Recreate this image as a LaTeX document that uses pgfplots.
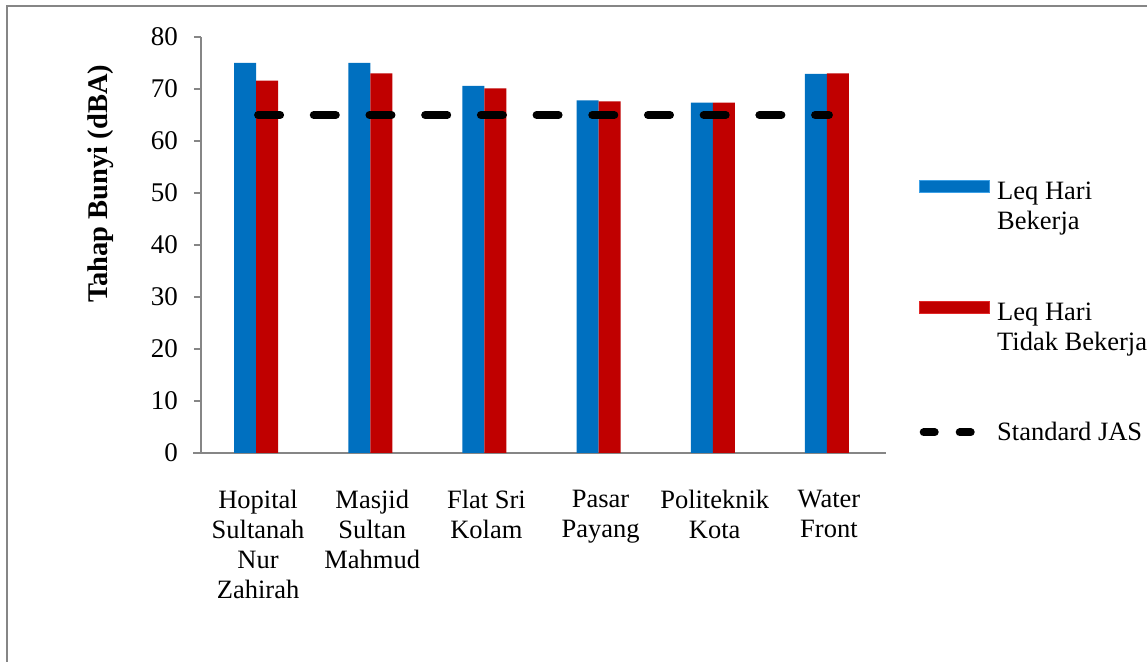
\documentclass[border=0pt]{standalone}
\usepackage{fontspec}
\setmainfont{Liberation Serif}
\usepackage{pgfplots}
\pgfplotsset{compat=1.18}
\definecolor{axgray}{RGB}{134,134,134}
\definecolor{bluemain}{RGB}{0,112,192}
\definecolor{bluelight}{RGB}{60,160,230}
\definecolor{redmain}{RGB}{192,0,0}
\definecolor{redlight}{RGB}{225,40,40}
\newcommand{\txt}{\fontsize{26.5bp}{30bp}\selectfont}
\begin{document}
\begin{tikzpicture}
\useasboundingbox (0bp,0bp) rectangle (1147bp,662bp);
\fill[white] (0bp,0bp) rectangle (1147bp,662bp);
\draw[axgray, line width=1.5bp] (7bp,-20bp) -- (7bp,656bp) -- (1170bp,656bp);
\begin{axis}[
  at={(201bp,209bp)}, anchor=south west,
  scale only axis, width=685bp, height=416bp,
  xmin=-0.5, xmax=5.5, ymin=0, ymax=80,
  ytick={0,10,...,80},
  xtick={0,...,5},
  xticklabels={Hopital\\Sultanah\\Nur\\Zahirah, Masjid\\Sultan\\Mahmud, Flat Sri\\Kolam, Pasar\\Payang, Politeknik\\Kota, Water\\Front},
  xticklabel style={align=center, anchor=north, inner sep=0pt, yshift=-30bp, font=\txt},
  axis x line*=bottom, axis y line*=left,
  axis line style={axgray, line width=1.3bp},
  x axis line style={shorten <=-8bp},
  xtick style={draw=none},
  ytick style={axgray, line width=1.3bp},
  tick align=outside, major tick length=7bp,
  yticklabel style={font=\fontsize{27bp}{30bp}\selectfont, inner sep=0pt, xshift=-16bp},
  /pgf/number format/assume math mode=true,
  ylabel={Tahap Bunyi (dBA)},
  ylabel style={at={(rel axis cs:-0.146,0.647)}, anchor=center, font=\fontsize{28.5bp}{33bp}\selectfont\bfseries},
  ybar=0pt, bar width=22bp,
  legend style={draw=none, fill=none, at={(rel axis cs:1.0482,0.656)}, anchor=north west,
    inner sep=0pt, row sep=70bp, column sep=7bp, font=\txt,
    nodes={inner sep=0pt, align=left}},
  legend cell align=left,
]
\addplot[ybar, fill=bluemain, draw=none, bar shift=-13bp,
  legend image code/.code={\fill[bluemain, draw=bluelight, line width=1bp] (0bp,14bp) rectangle (70bp,26bp);}]
  coordinates {(0,75) (1,75) (2,70.6) (3,67.8) (4,67.4) (5,72.9)};
\addlegendentry{Leq Hari\\Bekerja}
\addplot[ybar, fill=redmain, draw=none, bar shift=9bp,
  legend image code/.code={\fill[redmain, draw=redlight, line width=1bp] (0bp,14bp) rectangle (70bp,26bp);}]
  coordinates {(0,71.6) (1,73.0) (2,70.1) (3,67.6) (4,67.4) (5,73.0)};
\addlegendentry{Leq Hari\\Tidak Bekerja}
\addplot[sharp plot, black, line width=8bp, line cap=round, dash pattern=on 22bp off 33.7bp,
  legend image code/.code={\draw[black, line width=8bp, line cap=round, dash pattern=on 11bp off 25bp] (4bp,0bp) -- (52bp,0bp);}]
  coordinates {(0,65) (5,65)};
\addlegendentry{Standard JAS}
\end{axis}
\end{tikzpicture}
\end{document}
